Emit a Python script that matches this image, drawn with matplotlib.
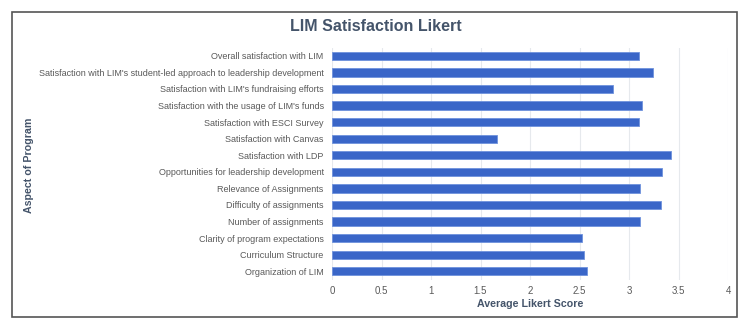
import matplotlib.pyplot as plt
from matplotlib.patches import Rectangle

plt.rcParams['font.family'] = ['Liberation Sans', 'DejaVu Sans']

# categories listed bottom to top
aspects = [
    'Organization of LIM',
    'Curriculum Structure',
    'Clarity of program expectations',
    'Number of assignments',
    'Difficulty of assignments',
    'Relevance of Assignments',
    'Opportunities for leadership development',
    'Satisfaction with LDP',
    'Satisfaction with Canvas',
    'Satisfaction with ESCI Survey',
    "Satisfaction with the usage of LIM's funds",
    "Satisfaction with LIM's fundraising efforts",
    "Satisfaction with LIM's student-led approach to leadership development",
    'Overall satisfaction with LIM',
]
scores = [2.58, 2.55, 2.53, 3.11, 3.32, 3.11, 3.33, 3.42, 1.67, 3.10, 3.13, 2.84, 3.24, 3.10]
x_ticks = [0, 0.5, 1, 1.5, 2, 2.5, 3, 3.5, 4]

TITLE_COLOR = '#44546a'
TICK_COLOR = '#595959'
BAR_COLOR = '#3a66c8'

fig = plt.figure(figsize=(7.5, 3.31), dpi=100)
W, H = 750, 331

# outer frame
fig.patches.append(Rectangle((12 / W, 1 - 317 / H), (737 - 12) / W, (317 - 11.5) / H,
                             transform=fig.transFigure, fill=False,
                             edgecolor='#555555', linewidth=1.2))

ax = fig.add_axes([332 / W, 1 - 279.5 / H, 396 / W, (279.5 - 47.5) / H])
ax.barh(range(len(aspects)), scores, height=0.5, color=BAR_COLOR,
        edgecolor='#6f92dc', linewidth=0.6, zorder=3)

ax.set_xlim(0, 4)
ax.set_ylim(-0.5, len(aspects) - 0.5)
ax.set_xticks(x_ticks)
ax.set_xticklabels([f'{t:g}' for t in x_ticks])
ax.set_yticks(range(len(aspects)))
ax.set_yticklabels(aspects)
ax.grid(axis='x', color='#e6e9ed', linewidth=0.8, zorder=0)
for s in ax.spines.values():
    s.set_visible(False)
ax.tick_params(length=0, labelcolor=TICK_COLOR)
ax.tick_params(axis='y', pad=6, labelsize=6.5)
ax.tick_params(axis='x', pad=5, labelsize=7)

ax.set_xlabel('Average Likert Score', fontsize=7.7, fontweight='bold',
              color=TITLE_COLOR, labelpad=2)
fig.text(29 / W, 1 - 165 / H, 'Aspect of Program', rotation=90, ha='center',
         va='center', fontsize=7.7, fontweight='bold', color=TITLE_COLOR)
fig.text(376 / W, 1 - 26.5 / H, 'LIM Satisfaction Likert', ha='center', va='center',
         fontsize=11.5, fontweight='bold', color=TITLE_COLOR)

fig.savefig('out.png', dpi=100, facecolor='white')
